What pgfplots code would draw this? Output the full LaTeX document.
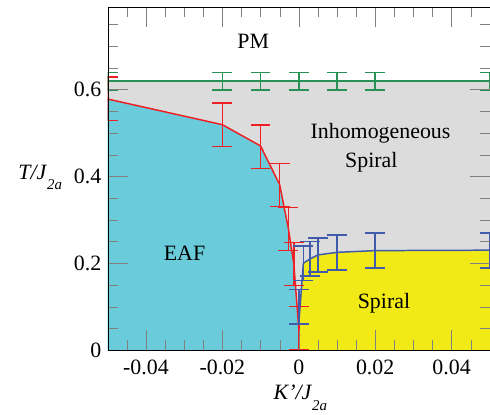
\documentclass[border=0pt]{standalone}
\usepackage{fontspec}
\setmainfont{Liberation Serif}
\usepackage{pgfplots}
\pgfplotsset{compat=1.18}
\definecolor{eafcyan}{RGB}{106,204,219}
\definecolor{inhgray}{RGB}{220,220,220}
\definecolor{spyellow}{RGB}{242,234,22}
\definecolor{lred}{RGB}{237,32,38}
\definecolor{lgreen}{RGB}{40,145,85}
\definecolor{lblue}{RGB}{63,91,170}
\newcommand{\sub}[1]{\raisebox{-11pt}{\fontsize{15}{15}\selectfont\textit{#1}}}
\begin{document}
\begin{tikzpicture}
\path (-108.3pt,-62pt) rectangle (381.7pt,352pt);
\begin{axis}[
  at={(0pt,0pt)}, anchor=south west,
  scale only axis, width=384.2pt, height=345pt,
  xmin=-0.05, xmax=0.05, ymin=0, ymax=0.79,
  axis on top,
  tick align=inside,
  scaled x ticks=false, scaled y ticks=false,
  major tick length=20pt, minor tick length=10pt,
  xtick={-0.04,-0.02,0,0.02,0.04},
  xticklabels={-0.04,-0.02,0,0.02,0.04},
  minor xtick={-0.045,-0.035,-0.03,-0.025,-0.015,-0.01,-0.005,0.005,0.01,0.015,0.025,0.03,0.035,0.045},
  ytick={0,0.2,0.4,0.6},
  yticklabels={0,0.2,0.4,0.6},
  minor ytick={0.05,0.1,0.15,0.25,0.3,0.35,0.45,0.5,0.55,0.65,0.7,0.75},
  tick label style={font=\fontsize{22}{26}\selectfont},
  xticklabel style={yshift=-6pt},
  yticklabel style={xshift=-3pt},
  every axis x label/.style={at={(axis description cs:0.4253,-0.145)}, anchor=base west, font=\fontsize{22}{26}\selectfont},
  every axis y label/.style={at={(axis description cs:-0.243,0.4986)}, anchor=base west, font=\fontsize{22}{26}\selectfont},
  xlabel={\textit{K’/J}\sub{2a}},
  ylabel={\textit{T/J}\sub{2a}},
]
% regions
\addplot[fill=inhgray, draw=none] coordinates {(-0.05,0.619) (0.05,0.619)} \closedcycle;
\addplot[fill=eafcyan, draw=none] coordinates {
 (-0.05,0.578) (-0.02,0.519) (-0.01,0.47) (-0.005,0.381) (-0.0027,0.279) (-0.0013,0.199) (0,0.05)} \closedcycle;
\addplot[fill=spyellow, draw=none] coordinates {
 (0,0.059) (0.0012,0.2) (0.003,0.21) (0.005,0.219) (0.01,0.225) (0.02,0.229) (0.05,0.23)} \closedcycle;
% boundary lines
\addplot[lgreen, line width=1.5pt, mark=none] coordinates {(-0.05,0.619) (0.05,0.619)};
\addplot[lred, line width=1.5pt, mark=none] coordinates {
 (-0.05,0.578) (-0.02,0.519) (-0.01,0.47) (-0.005,0.381) (-0.0027,0.279) (-0.0013,0.199) (0,0.05)};
\addplot[lblue, line width=1.5pt, mark=none] coordinates {
 (0,0.059) (0.0012,0.2) (0.003,0.21) (0.005,0.219) (0.01,0.225) (0.02,0.229) (0.05,0.23)};
% error bars
\addplot[lred, line width=1.5pt, draw=none, mark=none,
  error bars/.cd, y dir=both, y explicit,
  error bar style={lred, line width=1.5pt, solid},
  error mark options={lred, mark size=10pt, line width=1.5pt, rotate=90}] coordinates {
 (-0.05,0.579) +- (0,0.05)
 (-0.02,0.5185) +- (0,0.05)
 (-0.01,0.468) +- (0,0.05)
 (-0.005,0.38) +- (0,0.049)
 (-0.0027,0.2785) +- (0,0.0495)
 (-0.0013,0.1985) +- (0,0.0495)
 (0,0.05) +- (0,0.05)};
\addplot[lgreen, line width=1.5pt, draw=none, mark=none,
  error bars/.cd, y dir=both, y explicit,
  error bar style={lgreen, line width=1.5pt, solid},
  error mark options={lgreen, mark size=10pt, line width=1.5pt, rotate=90}] coordinates {
 (-0.05,0.619) +- (0,0.02)
 (-0.02,0.619) +- (0,0.02)
 (-0.01,0.619) +- (0,0.02)
 (0,0.619) +- (0,0.02)
 (0.01,0.619) +- (0,0.02)
 (0.02,0.619) +- (0,0.02)
 (0.05,0.619) +- (0,0.02)};
\addplot[lblue, line width=1.5pt, draw=none, mark=none,
  error bars/.cd, y dir=both, y explicit,
  error bar style={lblue, line width=1.5pt, solid},
  error mark options={lblue, mark size=10pt, line width=1.5pt, rotate=90}] coordinates {
 (0,0.0995) +- (0,0.04)
 (0.0012,0.2) +- (0,0.04)
 (0.003,0.21) +- (0,0.04)
 (0.005,0.2185) +- (0,0.039)
 (0.01,0.2245) +- (0,0.04)
 (0.02,0.2295) +- (0,0.04)
 (0.05,0.229) +- (0,0.04)};
% region names
\node[anchor=base, font=\fontsize{22}{26}\selectfont] at (axis cs:-0.0119,0.695) {PM};
\node[anchor=base, font=\fontsize{22}{26}\selectfont] at (axis cs:0.0214,0.4876) {Inhomogeneous};
\node[anchor=base, font=\fontsize{22}{26}\selectfont] at (axis cs:0.019,0.4199) {Spiral};
\node[anchor=base, font=\fontsize{22}{26}\selectfont] at (axis cs:-0.0299,0.2064) {EAF};
\node[anchor=base, font=\fontsize{22}{26}\selectfont] at (axis cs:0.0223,0.096) {Spiral};
\end{axis}
\end{tikzpicture}
\end{document}
